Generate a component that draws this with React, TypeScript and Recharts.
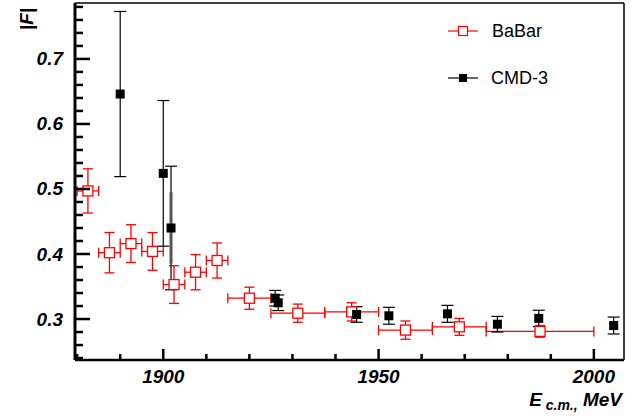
import { ScatterChart, Scatter, XAxis, YAxis, ErrorBar, Legend } from 'recharts';

// BaBar |F| vs E_cm (MeV), half-widths of the energy bins and errors
const babarE = [1882.5, 1887.5, 1892.5, 1897.5, 1902.5, 1907.5, 1912.5, 1920, 1931.25, 1943.75, 1956.25, 1968.75, 1987.5];
const babarF = [0.497, 0.402, 0.416, 0.404, 0.353, 0.372, 0.39, 0.332, 0.309, 0.311, 0.283, 0.288, 0.281];
const babarDE = [2.5, 2.5, 2.5, 2.5, 2.5, 2.5, 2.5, 5, 6.25, 6.25, 6.25, 6.25, 12.5];
const babarDF = [0.034, 0.031, 0.029, 0.029, 0.029, 0.027, 0.027, 0.017, 0.014, 0.014, 0.014, 0.013, 0.009];

// CMD-3
const cmdE = [1890, 1900, 1901.8, 1926, 1926.7, 1944.9, 1952.4, 1966, 1977.6, 1987.2, 2004.6];
const cmdF = [0.646, 0.524, 0.44, 0.332, 0.325, 0.307, 0.305, 0.308, 0.292, 0.301, 0.29];
const cmdDF = [0.127, 0.112, 0.095, 0.012, 0.012, 0.012, 0.013, 0.013, 0.012, 0.0125, 0.013];
const cmdDFstat = [0, 0, 0.055, 0, 0, 0, 0, 0, 0, 0, 0];

const xMajor = [1900, 1950, 2000];
const xTicks = [1880, 1890, 1900, 1910, 1920, 1930, 1940, 1950, 1960, 1970, 1980, 1990, 2000];
const yMajor = [0.3, 0.4, 0.5, 0.6, 0.7];
const yTicks = [0.24, 0.26, 0.28, 0.3, 0.32, 0.34, 0.36, 0.38, 0.4, 0.42, 0.44, 0.46, 0.48, 0.5,
  0.52, 0.54, 0.56, 0.58, 0.6, 0.62, 0.64, 0.66, 0.68, 0.7, 0.72, 0.74, 0.76, 0.78];

const babarData = babarE.map((e, i) => ({ e, f: babarF[i], de: babarDE[i], df: babarDF[i] }));
const cmdData = cmdE.map((e, i) => ({ e, f: cmdF[i], df: cmdDF[i], dfs: cmdDFstat[i] }));

const RED = '#ff0000';
const FONT = '"Liberation Sans", Arial, Helvetica, sans-serif';

function OpenSquare(props: any) {
  const { cx, cy } = props;
  return <rect x={cx - 5} y={cy - 5} width={10} height={10} fill="#fff" stroke={RED} strokeWidth={1.3} />;
}

function FilledSquare(props: any) {
  const { cx, cy } = props;
  return <rect x={cx - 4.5} y={cy - 4.5} width={9} height={9} fill="#000" />;
}

function YTick(props: any) {
  const { x, y, payload } = props;
  const major = yMajor.includes(payload.value);
  return (
    <g>
      <line x1={x} x2={x + (major ? 15 : 8)} y1={y} y2={y} stroke="#000" strokeWidth={2.5} />
      {major && (
        <text x={x - 12} y={y + 6.5} textAnchor="end" fontFamily={FONT} fontWeight="bold" fontStyle="italic" fontSize={19} fill="#000">
          {payload.value.toFixed(1)}
        </text>
      )}
    </g>
  );
}

function XTick(props: any) {
  const { x, y, payload } = props;
  const major = xMajor.includes(payload.value);
  return (
    <g>
      <line x1={x} x2={x} y1={y} y2={y - (major ? 11 : 6)} stroke="#000" strokeWidth={2.5} />
      {major && (
        <text x={x} y={y + 23} textAnchor="middle" fontFamily={FONT} fontWeight="bold" fontStyle="italic" fontSize={19} fill="#000">
          {payload.value}
        </text>
      )}
    </g>
  );
}

function LegendBox() {
  return (
    <svg width={200} height={90}>
      <line x1={8} x2={38} y1={21} y2={21} stroke={RED} strokeWidth={1.2} />
      <rect x={18.5} y={16.5} width={9} height={9} fill="#fff" stroke={RED} strokeWidth={1.2} />
      <text x={52} y={27} fontFamily={FONT} fontSize={18} fill="#000">BaBar</text>
      <line x1={8} x2={38} y1={68} y2={68} stroke="#000" strokeWidth={1.2} />
      <rect x={19} y={64} width={8} height={8} fill="#000" />
      <text x={51} y={74} fontFamily={FONT} fontSize={18} fill="#000">CMD-3</text>
    </svg>
  );
}

export default function App() {
  return (
    <div style={{ position: 'absolute', left: 0, top: 0, background: '#fff' }}>
      <ScatterChart width={641} height={418} margin={{ top: 2, right: 16, bottom: 28, left: 15 }}>
        <XAxis
          type="number"
          dataKey="e"
          domain={[1879.5, 2007]}
          allowDataOverflow
          ticks={xTicks}
          interval={0}
          height={30}
          tickSize={0}
          tickMargin={0}
          tickLine={false}
          tick={<XTick />}
          axisLine={{ stroke: '#000', strokeWidth: 2.5 }}
          label={{
            content: () => (
              <text x={622} y={406} textAnchor="end" fontFamily={FONT} fontWeight="bold" fontStyle="italic" fontSize={19} fill="#000">
                E<tspan fontSize={14} dy={4}> c.m.,</tspan><tspan dy={-4}> MeV</tspan>
              </text>
            ),
          }}
        />
        <XAxis xAxisId="top" orientation="top" type="number" domain={[1879.5, 2007]} height={1} tick={false} tickLine={false} axisLine={{ stroke: '#000', strokeWidth: 1.5 }} />
        <YAxis
          type="number"
          dataKey="f"
          domain={[0.237, 0.786]}
          allowDataOverflow
          ticks={yTicks}
          interval={0}
          width={60}
          tickSize={0}
          tickMargin={0}
          tickLine={false}
          tick={<YTick />}
          axisLine={{ stroke: '#000', strokeWidth: 3 }}
          label={{
            content: () => (
              <text x={33} y={19} transform="rotate(-90 33 19)" textAnchor="middle" fontFamily={FONT} fontWeight="bold" fontStyle="italic" fontSize={19} fill="#000">
                |F|
              </text>
            ),
          }}
        />
        <YAxis yAxisId="right" orientation="right" type="number" domain={[0.237, 0.786]} width={1} tick={false} tickLine={false} axisLine={{ stroke: '#000', strokeWidth: 1.5 }} />
        <Legend
          layout="vertical"
          align="center"
          verticalAlign="middle"
          content={() => <LegendBox />}
          wrapperStyle={{ left: 440, top: 10, width: 200, height: 90 }}
        />
        <Scatter name="BaBar" data={babarData} shape={<OpenSquare />} isAnimationActive={false}>
          <ErrorBar dataKey="de" direction="x" width={5} stroke={RED} strokeWidth={1.3} />
          <ErrorBar dataKey="df" direction="y" width={5} stroke={RED} strokeWidth={1.3} />
        </Scatter>
        <Scatter name="CMD-3" data={cmdData} shape={<FilledSquare />} isAnimationActive={false}>
          <ErrorBar dataKey="df" direction="y" width={6} stroke="#000" strokeWidth={1.2} />
          <ErrorBar dataKey="dfs" direction="y" width={0} stroke="#555" strokeWidth={3} />
        </Scatter>
      </ScatterChart>
    </div>
  );
}
